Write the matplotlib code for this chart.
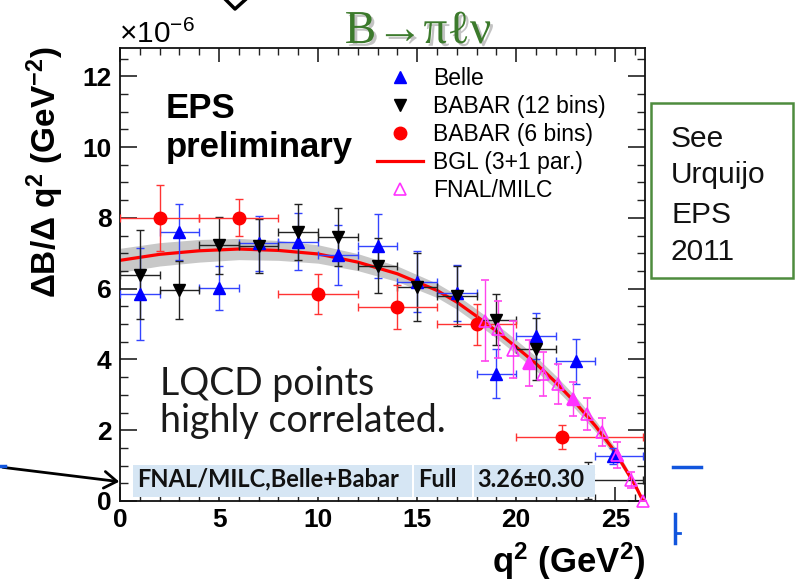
import matplotlib
matplotlib.use("Agg")
import matplotlib.pyplot as plt
import matplotlib.patheffects as pe
from matplotlib.lines import Line2D
from matplotlib.patches import Rectangle, FancyArrowPatch
from matplotlib.ticker import MultipleLocator

plt.rcParams["font.family"] = ["Liberation Sans", "DejaVu Sans"]
plt.rcParams["mathtext.fontset"] = "custom"
plt.rcParams["mathtext.rm"] = "Liberation Sans"
plt.rcParams["mathtext.bf"] = "Liberation Sans:bold"
plt.rcParams["mathtext.it"] = "Liberation Sans:italic"

# Belle (13 bins)
belle_q2 = [1, 3, 5, 7, 9, 11, 13, 15, 17, 19, 21, 23, 24.9]
belle_xlo = [1, 1, 1, 1, 1, 1, 1, 1, 1, 1, 1, 1, 0.9]
belle_xhi = [1, 1, 1, 1, 1, 1, 1, 1, 1, 1, 1, 1, 1.5]
belle_y = [5.85, 7.6, 6.02, 7.28, 7.33, 6.95, 7.2, 6.2, 5.88, 3.6, 4.65, 3.95, 1.27]
belle_err = [1.3, 0.8, 0.63, 0.77, 0.8, 0.85, 0.9, 0.87, 0.8, 0.7, 0.65, 0.63, 0.22]

# BABAR 12 bins
babar12_q2 = [1, 3, 5, 7, 9, 11, 13, 15, 17, 19, 21, 23.6]
babar12_xlo = [1, 1, 1, 1, 1, 1, 1, 1, 1, 1, 1, 1.6]
babar12_xhi = [1, 1, 1, 1, 1, 1, 1, 1, 1, 1, 1, 2.8]
babar12_y = [6.4, 5.95, 7.22, 7.2, 7.6, 7.45, 6.65, 6.05, 5.8, 5.12, 4.3, 0.58]
babar12_err = [1.27, 0.82, 0.8, 0.77, 0.8, 0.82, 0.78, 0.95, 0.85, 0.72, 0.88, 0.52]

# BABAR 6 bins
babar6_q2 = [2, 6, 10, 14, 18, 22.3]
babar6_xlo = [2, 2, 2, 2, 2, 2.3]
babar6_xhi = [2, 2, 2, 2, 2, 4.1]
babar6_y = [8.0, 8.0, 5.85, 5.48, 5.0, 1.8]
babar6_err = [0.93, 0.52, 0.56, 0.62, 0.58, 0.34]

# FNAL/MILC lattice points
fnal_q2 = [18.4, 19.1, 19.83, 20.62, 21.35, 22.09, 22.85, 23.57, 24.33, 25.08, 25.8, 26.42]
fnal_y = [5.1, 4.85, 4.28, 3.9, 3.6, 3.3, 2.88, 2.47, 1.95, 1.3, 0.6, 0.0]
fnal_err = [1.15, 0.8, 0.8, 0.65, 0.62, 0.57, 0.47, 0.45, 0.4, 0.38, 0.22, 0.0]

# BGL (3+1 par.) fit and its uncertainty band
bgl_q2 = [0, 2, 4, 6, 8, 10, 12, 14, 16, 17, 18, 19, 20, 21, 22, 23, 24, 25, 26, 26.4]
bgl_y = [6.8, 6.97, 7.07, 7.12, 7.08, 6.98, 6.75, 6.42, 5.95, 5.62, 5.22, 4.8,
         4.35, 3.88, 3.35, 2.77, 2.12, 1.38, 0.45, 0.0]
bgl_band = [0.34, 0.33, 0.32, 0.3, 0.28, 0.26, 0.24, 0.22, 0.2, 0.2, 0.2, 0.2,
            0.2, 0.2, 0.19, 0.18, 0.16, 0.13, 0.08, 0.04]

legend_labels = ["Belle", "BABAR (12 bins)", "BABAR (6 bins)", "BGL (3+1 par.)", "FNAL/MILC"]
table_cells = ["FNAL/MILC,Belle+Babar", "Full", "3.26\u00b10.30"]

W, H = 798, 583


def fx(px):
    return px / W


def fy(py):
    return 1 - py / H


fig = plt.figure(figsize=(W / 100, H / 100), dpi=100)
ax = fig.add_axes([fx(120), fy(501), (645 - 120) / W, (501 - 48) / H])

# band + fit
lo = [y - b for y, b in zip(bgl_y, bgl_band)]
hi = [y + b for y, b in zip(bgl_y, bgl_band)]
ax.fill_between(bgl_q2, lo, hi, color="#c8c8c8", lw=0, zorder=1)
ax.plot(bgl_q2, bgl_y, color="#ff0000", lw=2.3, zorder=2)

ekw = dict(ls="none", elinewidth=1.0, capsize=3, capthick=1.0, ms=9, zorder=3)
ax.errorbar(belle_q2, belle_y, yerr=belle_err, xerr=[belle_xlo, belle_xhi],
            fmt="^", color="#0000ff", ecolor="#3344ff", **ekw)
ax.errorbar(babar12_q2, babar12_y, yerr=babar12_err, xerr=[babar12_xlo, babar12_xhi],
            fmt="v", color="#000000", ecolor="#222222", **ekw)
ax.errorbar(babar6_q2, babar6_y, yerr=babar6_err, xerr=[babar6_xlo, babar6_xhi],
            fmt="o", color="#ff0000", ecolor="#ff3333", **ekw)
ax.errorbar(fnal_q2, fnal_y, yerr=fnal_err, fmt="^", color="#ff33ff", ecolor="#ff44ee",
            mfc="none", mew=1.2, ls="none", elinewidth=1.0, capsize=3, capthick=1.0,
            ms=9, zorder=3, clip_on=False)
ax.plot(fnal_q2[3::3], fnal_y[3::3], "^", color="#ff33ff", ms=9, zorder=3)

ax.set_xlim(0, 26.5)
ax.set_ylim(0, 12.8)
ax.xaxis.set_major_locator(MultipleLocator(5))
ax.xaxis.set_minor_locator(MultipleLocator(1))
ax.yaxis.set_major_locator(MultipleLocator(2))
ax.yaxis.set_minor_locator(MultipleLocator(0.5))
ax.tick_params(which="both", direction="in", top=True, right=True, color="#222222")
ax.tick_params(axis="y", which="major", length=12, width=1.2, pad=6)
ax.tick_params(axis="y", which="minor", length=6, width=1.0)
ax.tick_params(axis="x", which="major", length=10, width=1.2, pad=5)
ax.tick_params(axis="x", which="minor", length=5, width=1.0)
for lab in ax.get_xticklabels() + ax.get_yticklabels():
    lab.set_fontsize(19)
    lab.set_fontweight("bold")
for sp in ax.spines.values():
    sp.set_linewidth(1.3)
    sp.set_color("#111111")

# legend
handles = [
    Line2D([], [], marker="^", color="#0000ff", ls="none", ms=9),
    Line2D([], [], marker="v", color="#000000", ls="none", ms=9),
    Line2D([], [], marker="o", color="#ff0000", ls="none", ms=9),
    Line2D([], [], color="#ff0000", lw=2.3),
    Line2D([], [], marker="^", color="#ff33ff", mfc="none", mew=1.2, ls="none", ms=9),
]
ax.legend(handles, legend_labels, loc="upper left", bbox_to_anchor=(0.4895, 0.959),
          frameon=False, fontsize=16.5, handlelength=2.0, handletextpad=0.45,
          labelspacing=0.22, borderpad=0, borderaxespad=0, numpoints=1)

# annotations inside the axes
ax.text(0.0876, 0.8455, "EPS", transform=ax.transAxes, fontsize=25, fontweight="bold",
        va="baseline", ha="left")
ax.text(0.0876, 0.759, "preliminary", transform=ax.transAxes, fontsize=25,
        fontweight="bold", va="baseline", ha="left")
ax.text(0.076, 0.234, "LQCD points", transform=ax.transAxes, fontsize=27,
        family="Lato", color="#1a1a1a", va="baseline", ha="left")
ax.text(0.076, 0.152, "highly correlated.", transform=ax.transAxes, fontsize=27,
        family="Lato", color="#1a1a1a", va="baseline", ha="left")

# result table
bx0, bx1 = (133 - 120) / 525, (597 - 120) / 525
by0, by1 = (501 - 497) / 453, (501 - 465) / 453
cuts = [bx0, (414 - 120) / 525, (474 - 120) / 525, bx1]
for i, txt in enumerate(table_cells):
    ax.add_patch(Rectangle((cuts[i], by0), cuts[i + 1] - cuts[i] - 0.003, by1 - by0,
                           transform=ax.transAxes, facecolor="#d6e6f4", edgecolor="none",
                           zorder=10, clip_on=False))
    ax.text(cuts[i] + 0.007, 0.0316, txt, transform=ax.transAxes, fontsize=17,
            family="Lato", fontweight="bold", color="#111111", va="baseline",
            ha="left", zorder=11)

# axis labels and figure-level text
fig.text(fx(119), fy(43), r"$\times10^{-6}$", fontsize=21.5, va="baseline", ha="left")
fig.text(fx(45), fy(172), r"$\mathbf{\Delta B/\Delta\ q^{2}\ (GeV^{-2})}$", fontsize=24,
         rotation=90, ha="center", va="center")
fig.text(fx(645), fy(573), r"$\mathbf{q^{2}\ (GeV^{2})}$", fontsize=25,
         ha="right", va="baseline")
fig.text(fx(418), fy(43), "B\u2192\u03c0\u2113\u03bd", fontsize=34,
         family=["Liberation Serif", "DejaVu Serif"], color="#3c7a2c",
         ha="center", va="baseline",
         path_effects=[pe.SimplePatchShadow(offset=(2, -2), shadow_rgbFace="#888888",
                                            alpha=0.5), pe.Normal()])

# "See Urquijo" box
fig.add_artist(Rectangle((fx(651), fy(278)), fx(793) - fx(651), fy(103) - fy(278),
                         transform=fig.transFigure, facecolor="white",
                         edgecolor="#4e8c3e", lw=1.8))
for txt, base in zip(["See", "Urquijo", "EPS", "2011"], [147, 183, 223, 260]):
    fig.text(fx(671), fy(base), txt, fontsize=21.5, color="#111111",
             va="baseline", ha="left")

# arrow pointing at the table
fig.add_artist(FancyArrowPatch((fx(0), fy(467)), (fx(122), fy(482)),
                               transform=fig.transFigure,
                               arrowstyle="->,head_length=0.45,head_width=0.3",
                               mutation_scale=20, lw=2, color="black"))

# slide fragments around the chart
fig.add_artist(Line2D([fx(226), fx(235), fx(245)], [fy(0), fy(9), fy(0)],
                      transform=fig.transFigure, color="black", lw=2.5))
fig.add_artist(Line2D([fx(0), fx(5)], [fy(466), fy(466)],
                      transform=fig.transFigure, color="#1155dd", lw=2.5))
fig.add_artist(Line2D([fx(673), fx(701)], [fy(467), fy(467)],
                      transform=fig.transFigure, color="#1155dd", lw=2.5))
fig.add_artist(Line2D([fx(675), fx(675)], [fy(514), fy(543)],
                      transform=fig.transFigure, color="#1155dd", lw=2.5))
fig.add_artist(Line2D([fx(675), fx(680)], [fy(533), fy(533)],
                      transform=fig.transFigure, color="#1155dd", lw=2))

fig.savefig("out.png", dpi=100)
